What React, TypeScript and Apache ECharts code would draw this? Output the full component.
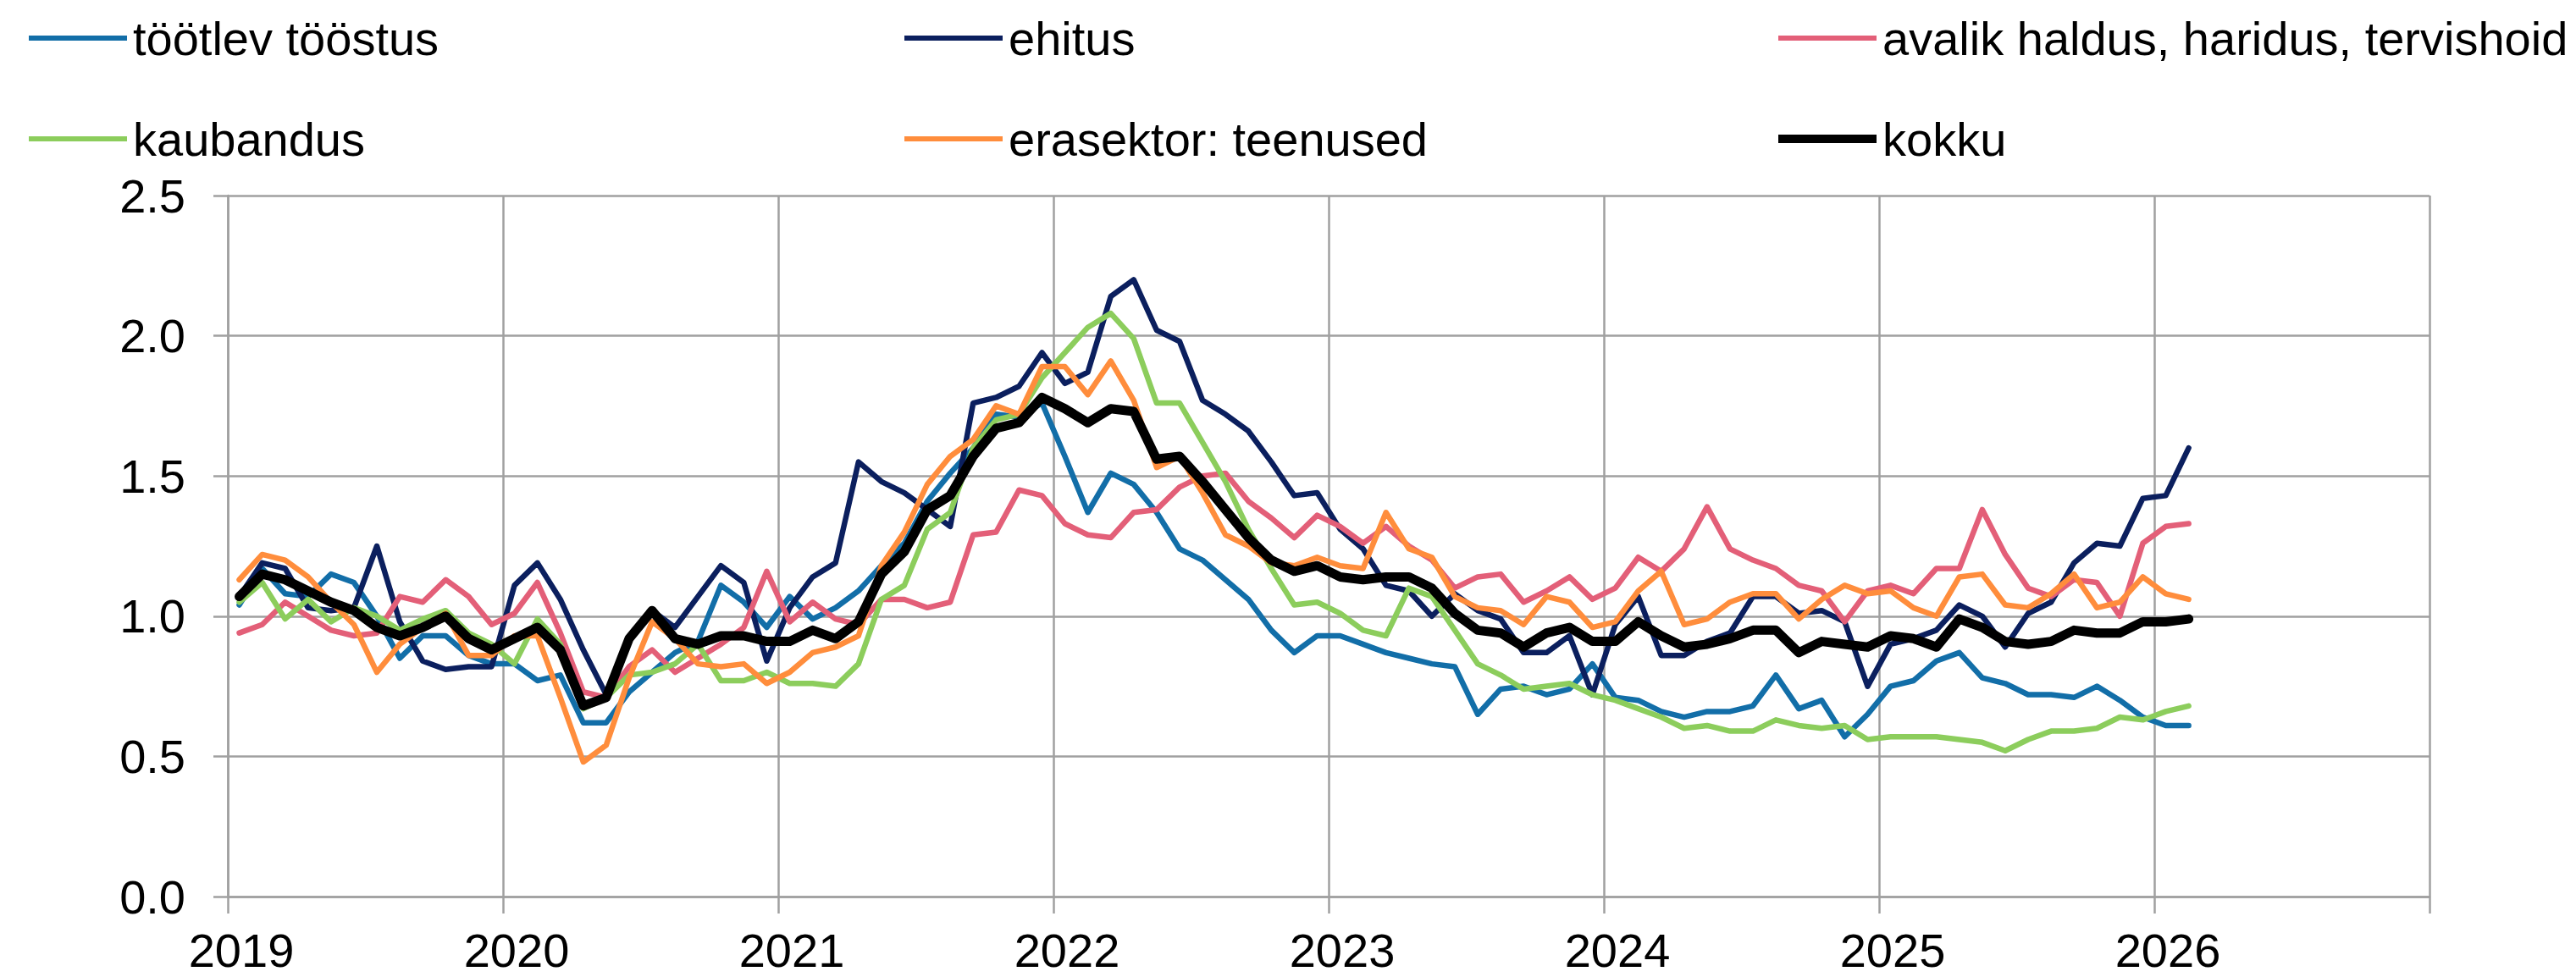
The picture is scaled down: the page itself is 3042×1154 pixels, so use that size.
import React, { useEffect, useRef } from "react";
import * as echarts from "echarts";

const START_YEAR = 2019;
const X_MIN = 2019;
const X_MAX = 2027;
const Y_MAX = 2.5;

const seriesNames = [
  "töötlev tööstus",
  "ehitus",
  "avalik haldus, haridus, tervishoid",
  "kaubandus",
  "erasektor: teenused",
  "kokku",
];

const seriesColors = ["#126ea8", "#0b1f5e", "#e35f78", "#8ccd5c", "#ff8d3c", "#000000"];

// monthly values, Jan 2019 .. Feb 2026
const tootlevToostus = [
  1.04, 1.17, 1.08, 1.07, 1.15, 1.12, 1.00, 0.85, 0.93, 0.93, 0.86, 0.83,
  0.83, 0.77, 0.79, 0.62, 0.62, 0.73, 0.80, 0.87, 0.91, 1.11, 1.05, 0.96,
  1.07, 0.99, 1.03, 1.09, 1.18, 1.26, 1.41, 1.51, 1.60, 1.72, 1.71, 1.76,
  1.57, 1.37, 1.51, 1.47, 1.37, 1.24, 1.20, 1.13, 1.06, 0.95, 0.87, 0.93,
  0.93, 0.90, 0.87, 0.85, 0.83, 0.82, 0.65, 0.74, 0.75, 0.72, 0.74, 0.83,
  0.71, 0.70, 0.66, 0.64, 0.66, 0.66, 0.68, 0.79, 0.67, 0.70, 0.57, 0.65,
  0.75, 0.77, 0.84, 0.87, 0.78, 0.76, 0.72, 0.72, 0.71, 0.75, 0.70, 0.64,
  0.61, 0.61,
];

const ehitus = [
  1.07, 1.19, 1.17, 1.03, 1.02, 1.03, 1.25, 0.98, 0.84, 0.81, 0.82, 0.82,
  1.11, 1.19, 1.06, 0.88, 0.72, 0.92, 1.02, 0.96, 1.07, 1.18, 1.12, 0.84,
  1.03, 1.14, 1.19, 1.55, 1.48, 1.44, 1.38, 1.32, 1.76, 1.78, 1.82, 1.94,
  1.83, 1.87, 2.14, 2.20, 2.02, 1.98, 1.77, 1.72, 1.66, 1.55, 1.43, 1.44,
  1.31, 1.24, 1.11, 1.09, 1.00, 1.08, 1.02, 0.99, 0.87, 0.87, 0.93, 0.72,
  0.97, 1.07, 0.86, 0.86, 0.91, 0.94, 1.07, 1.07, 1.01, 1.02, 0.98, 0.75,
  0.90, 0.92, 0.95, 1.04, 1.00, 0.89, 1.01, 1.05, 1.19, 1.26, 1.25, 1.42,
  1.43, 1.60,
];

const avalikHaldus = [
  0.94, 0.97, 1.05, 1.00, 0.95, 0.93, 0.94, 1.07, 1.05, 1.13, 1.07, 0.97,
  1.01, 1.12, 0.94, 0.73, 0.71, 0.82, 0.88, 0.80, 0.85, 0.90, 0.96, 1.16,
  0.98, 1.05, 0.99, 0.97, 1.06, 1.06, 1.03, 1.05, 1.29, 1.30, 1.45, 1.43,
  1.33, 1.29, 1.28, 1.37, 1.38, 1.46, 1.50, 1.51, 1.41, 1.35, 1.28, 1.36,
  1.32, 1.26, 1.32, 1.25, 1.20, 1.10, 1.14, 1.15, 1.05, 1.09, 1.14, 1.06,
  1.10, 1.21, 1.16, 1.24, 1.39, 1.24, 1.20, 1.17, 1.11, 1.09, 0.98, 1.09,
  1.11, 1.08, 1.17, 1.17, 1.38, 1.22, 1.10, 1.07, 1.13, 1.12, 1.00, 1.26,
  1.32, 1.33,
];

const kaubandus = [
  1.05, 1.12, 0.99, 1.06, 0.98, 1.03, 1.00, 0.95, 0.99, 1.02, 0.94, 0.90,
  0.83, 0.99, 0.90, 0.67, 0.71, 0.79, 0.80, 0.83, 0.90, 0.77, 0.77, 0.80,
  0.76, 0.76, 0.75, 0.83, 1.06, 1.11, 1.31, 1.37, 1.60, 1.70, 1.72, 1.85,
  1.94, 2.03, 2.08, 1.99, 1.76, 1.76, 1.62, 1.48, 1.31, 1.17, 1.04, 1.05,
  1.01, 0.95, 0.93, 1.10, 1.07, 0.95, 0.83, 0.79, 0.74, 0.75, 0.76, 0.72,
  0.70, 0.67, 0.64, 0.60, 0.61, 0.59, 0.59, 0.63, 0.61, 0.60, 0.61, 0.56,
  0.57, 0.57, 0.57, 0.56, 0.55, 0.52, 0.56, 0.59, 0.59, 0.60, 0.64, 0.63,
  0.66, 0.68,
];

const erasektorTeenused = [
  1.13, 1.22, 1.20, 1.14, 1.05, 0.97, 0.80, 0.90, 0.96, 1.01, 0.86, 0.86,
  0.93, 0.93, 0.71, 0.48, 0.54, 0.78, 0.98, 0.92, 0.83, 0.82, 0.83, 0.76,
  0.80, 0.87, 0.89, 0.93, 1.18, 1.30, 1.47, 1.57, 1.63, 1.75, 1.72, 1.89,
  1.89, 1.79, 1.91, 1.77, 1.53, 1.57, 1.44, 1.29, 1.25, 1.19, 1.18, 1.21,
  1.18, 1.17, 1.37, 1.24, 1.21, 1.07, 1.03, 1.02, 0.97, 1.07, 1.05, 0.96,
  0.98, 1.09, 1.16, 0.97, 0.99, 1.05, 1.08, 1.08, 0.99, 1.06, 1.11, 1.08,
  1.09, 1.03, 1.00, 1.14, 1.15, 1.04, 1.03, 1.08, 1.15, 1.03, 1.05, 1.14,
  1.08, 1.06,
];

const kokku = [
  1.07, 1.15, 1.13, 1.09, 1.05, 1.02, 0.96, 0.93, 0.96, 1.00, 0.92, 0.88,
  0.92, 0.96, 0.88, 0.68, 0.71, 0.92, 1.02, 0.92, 0.90, 0.93, 0.93, 0.91,
  0.91, 0.95, 0.92, 0.98, 1.15, 1.23, 1.38, 1.43, 1.57, 1.67, 1.69, 1.78,
  1.74, 1.69, 1.74, 1.73, 1.56, 1.57, 1.48, 1.38, 1.28, 1.20, 1.16, 1.18,
  1.14, 1.13, 1.14, 1.14, 1.10, 1.01, 0.95, 0.94, 0.89, 0.94, 0.96, 0.91,
  0.91, 0.98, 0.93, 0.89, 0.90, 0.92, 0.95, 0.95, 0.87, 0.91, 0.90, 0.89,
  0.93, 0.92, 0.89, 0.99, 0.96, 0.91, 0.90, 0.91, 0.95, 0.94, 0.94, 0.98,
  0.98, 0.99,
];

const seriesValues = [tootlevToostus, ehitus, avalikHaldus, kaubandus, erasektorTeenused, kokku];

const FONT = "'Liberation Sans', Arial, sans-serif";
const GRID_COLOR = "#a0a0a0";
const FONT_SIZE = 56;

// legend placement: [left, top] per item (row-major, 3 columns)
const legendPos: [number, number][] = [
  [29, 10],
  [1063, 10],
  [2095, 10],
  [29, 129],
  [1063, 129],
  [2095, 129],
];

export default function App() {
  const ref = useRef<HTMLDivElement>(null);

  useEffect(() => {
    if (!ref.current) return;
    const chart = echarts.init(ref.current, null, { renderer: "svg" });

    const toPoints = (vals: number[]) =>
      vals.map((v, i) => [START_YEAR + (i + 0.5) / 12, v]);

    const option: any = {
      animation: false,
      backgroundColor: "#ffffff",
      textStyle: { fontFamily: FONT },
      legend: seriesNames.map((name, i) => ({
        show: true,
        left: legendPos[i][0],
        top: legendPos[i][1],
        data: [name],
        icon: "rect",
        itemWidth: 116,
        itemHeight: i === 5 ? 10 : 6,
        itemGap: 0,
        selectedMode: false,
        textStyle: {
          fontFamily: FONT,
          fontSize: FONT_SIZE,
          color: "#000",
          lineHeight: 60,
          padding: [0, 0, 0, 2],
        },
      })),
      grid: {
        left: 269,
        right: 173,
        top: 231,
        bottom: 95,
        containLabel: false,
      },
      xAxis: {
        type: "value",
        min: X_MIN,
        max: X_MAX,
        interval: 1,
        axisLine: { show: true, onZero: true, lineStyle: { color: GRID_COLOR, width: 2.5 } },
        axisTick: { show: true, inside: false, length: 20, lineStyle: { color: GRID_COLOR, width: 2.5 } },
        splitLine: { show: true, lineStyle: { color: GRID_COLOR, width: 2.5 } },
        axisLabel: {
          show: true,
          fontFamily: FONT,
          fontSize: FONT_SIZE,
          color: "#000",
          margin: 35,
          padding: [0, 0, 0, 32],
          formatter: (v: number) => (v >= X_MAX ? "" : String(Math.round(v))),
        },
      },
      yAxis: {
        type: "value",
        min: 0,
        max: Y_MAX,
        interval: 0.5,
        axisLine: { show: true, lineStyle: { color: GRID_COLOR, width: 2.5 } },
        axisTick: { show: true, inside: false, length: 17, lineStyle: { color: GRID_COLOR, width: 2.5 } },
        splitLine: { show: true, lineStyle: { color: GRID_COLOR, width: 2.5 } },
        axisLabel: {
          show: true,
          fontFamily: FONT,
          fontSize: FONT_SIZE,
          color: "#000",
          margin: 50,
          formatter: (v: number) => v.toFixed(1),
        },
      },
      series: seriesNames.map((name, i) => ({
        name,
        type: "line",
        data: toPoints(seriesValues[i]),
        symbol: "none",
        showSymbol: false,
        color: seriesColors[i],
        z: 2 + i,
        lineStyle: {
          color: seriesColors[i],
          width: i === 5 ? 11 : 6.5,
          join: "round",
          cap: "round",
        },
      })),
    };

    chart.setOption(option);
    return () => chart.dispose();
  }, []);

  return (
    <div
      ref={ref}
      style={{ position: "fixed", left: 0, top: 0, width: 3042, height: 1154 }}
    />
  );
}
